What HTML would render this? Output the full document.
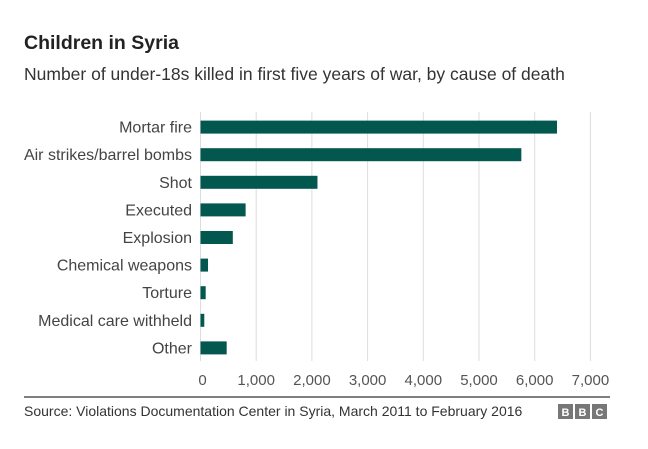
<!DOCTYPE html>
<html><head><meta charset="utf-8"><style>
body{margin:0;background:#fff;font-family:"Liberation Sans",Arial,sans-serif}
#wrap{position:relative;width:648px;height:449px;overflow:hidden}
</style></head><body>
<div id="wrap">
<svg id="chart" width="648" height="449">
<text x="24" y="49" font-size="19.5" font-weight="bold" fill="#222">Children in Syria</text>
<text x="24" y="80" font-size="17.5" fill="#333">Number of under-18s killed in first five years of war, by cause of death</text>
<g id="grid"></g><g id="bars"></g><g id="labels"></g><g id="ticks"></g>
<line x1="24" y1="397" x2="610" y2="397" stroke="#555" stroke-width="1.5"/>
<text x="24" y="416" font-size="14" fill="#333">Source: Violations Documentation Center in Syria, March 2011 to February 2016</text>
<g>
<rect x="558" y="404" width="15" height="15" fill="#777"/><text x="565.5" y="416" font-size="11" font-weight="bold" fill="#fff" text-anchor="middle">B</text>
<rect x="575" y="404" width="15" height="15" fill="#777"/><text x="582.5" y="416" font-size="11" font-weight="bold" fill="#fff" text-anchor="middle">B</text>
<rect x="592" y="404" width="15" height="15" fill="#777"/><text x="599.5" y="416" font-size="11" font-weight="bold" fill="#fff" text-anchor="middle">C</text>
</g>
</svg>
</div>
<script>
const categories=["Mortar fire","Air strikes/barrel bombs","Shot","Executed","Explosion","Chemical weapons","Torture","Medical care withheld","Other"];
const values=[6400,5760,2100,810,580,135,93,68,470];
const tickValues=[0,1000,2000,3000,4000,5000,6000,7000];
const tickLabels=["0","1,000","2,000","3,000","4,000","5,000","6,000","7,000"];
const NS="http://www.w3.org/2000/svg";
const x0=200.5,pxPer=0.0557,yTop=113.3,rowH=27.6,barH=13,axisY=361;
function xs(v){return x0+v*pxPer;}
function yc(i){return yTop+rowH*(i+0.5);}
function mk(t,a,p){const e=document.createElementNS(NS,t);for(const k in a)e.setAttribute(k,a[k]);p.appendChild(e);return e;}
const grid=document.getElementById('grid'),bars=document.getElementById('bars'),labels=document.getElementById('labels'),ticks=document.getElementById('ticks');
tickValues.forEach((v,i)=>{
 const l=mk('line',{x1:xs(v),x2:xs(v),y1:112,y2:axisY,stroke:'#ddd','stroke-width':1},grid);
 
 
 const t=mk('text',{x:xs(v)+(i==0?2:0),y:385,'font-size':15,fill:'#555','text-anchor':'middle'},ticks);
 t.textContent=tickLabels[i];
 
 
});
categories.forEach((c,i)=>{
 const r=mk('rect',{x:x0,y:yc(i)-barH/2,width:xs(values[i])-x0,height:barH,fill:'#02574f'},bars);
 
 
 const t=mk('text',{x:192,y:yc(i)+5.5,'font-size':16,fill:'#444','text-anchor':'end'},labels);
 t.textContent=c;
 
 
});
</script>
</body></html>
